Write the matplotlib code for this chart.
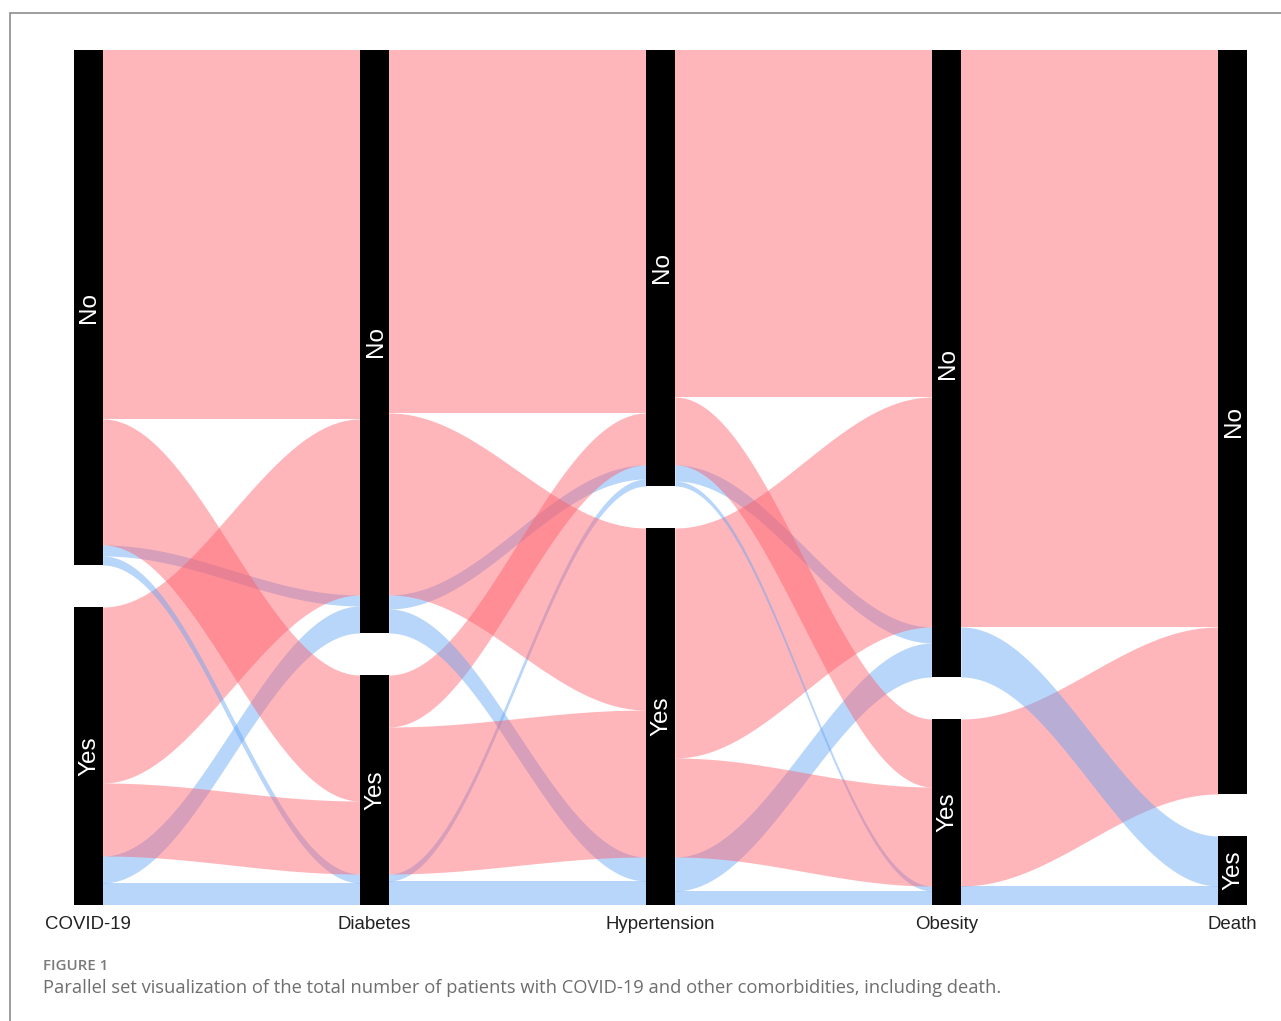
import numpy as np
import matplotlib
matplotlib.use('Agg')
import matplotlib.pyplot as plt
from matplotlib.patches import Rectangle

variables = ['COVID-19', 'Diabetes', 'Hypertension', 'Obesity', 'Death']
levels = ['No', 'Yes']

# flows between neighbouring variables, rows = left level, cols = right level
# split by outcome: survived (pink) / died (blue)
covid_diabetes_alive = [[369, 126], [176, 73]]
covid_diabetes_dead = [[11, 9], [27, 22]]
diabetes_hyper_alive = [[363, 182], [52, 147]]
diabetes_hyper_dead = [[14, 24], [7, 24]]
hyper_obesity_alive = [[347, 68], [230, 99]]
hyper_obesity_dead = [[16, 5], [34, 14]]
obesity_death_alive = [[577, 0], [167, 0]]
obesity_death_dead = [[0, 50], [0, 19]]

pairs = [
    (np.array(covid_diabetes_alive), np.array(covid_diabetes_dead)),
    (np.array(diabetes_hyper_alive), np.array(diabetes_hyper_dead)),
    (np.array(hyper_obesity_alive), np.array(hyper_obesity_dead)),
    (np.array(obesity_death_alive), np.array(obesity_death_dead)),
]

flow_colors = ['#ff5d6a', '#63a4f4']
flow_alpha = 0.45
bar_half = 0.05

# size of every level on every axis
sizes = [alive.sum(axis=1) + dead.sum(axis=1) for alive, dead in pairs]
sizes.append(pairs[-1][0].sum(axis=0) + pairs[-1][1].sum(axis=0))
total = sizes[0].sum()
gap = 0.0517 * total
tops = [np.array([0, s[0] + gap]) for s in sizes]

fig = plt.figure(figsize=(12.81, 10.21), dpi=100)
ax = fig.add_axes([74 / 1281, 116 / 1021, 1173 / 1281, 855 / 1021])
ax.set_xlim(-bar_half, len(variables) - 1 + bar_half)
ax.set_ylim(total + gap, 0)
ax.axis('off')

t = np.linspace(0, 1, 150)
s = (1 - np.cos(np.pi * t)) / 2

for k, tables in enumerate(pairs):
    left = {}
    for l in range(2):
        cur = tops[k][l]
        for o in range(2):
            for m in range(2):
                v = tables[o][l, m]
                left[(l, m, o)] = (cur, cur + v)
                cur += v
    right = {}
    for m in range(2):
        cur = tops[k + 1][m]
        for o in range(2):
            for l in range(2):
                v = tables[o][l, m]
                right[(l, m, o)] = (cur, cur + v)
                cur += v
    x = k + bar_half + (1 - 2 * bar_half) * t
    # drawn by target level, then source level
    for m in range(2):
        for l in range(2):
            for o in range(2):
                if tables[o][l, m] == 0:
                    continue
                (a0, a1), (b0, b1) = left[(l, m, o)], right[(l, m, o)]
                y0 = a0 + (b0 - a0) * s
                y1 = a1 + (b1 - a1) * s
                ax.fill_between(x, y0, y1, color=flow_colors[o],
                                alpha=flow_alpha, linewidth=0)

for k, name in enumerate(variables):
    for l, lev in enumerate(levels):
        ax.bar(k, sizes[k][l], bottom=tops[k][l], width=2 * bar_half,
               color='black', linewidth=0)
        ax.text(k + 0.004, tops[k][l] + sizes[k][l] / 2, lev, rotation=90,
                ha='center', va='center', color='white', fontsize=17.5,
                family='Liberation Sans')
    ax.text(k, total + gap + 20, name, ha='center', va='center',
            fontsize=13.4, color='#222222', family='Liberation Sans',
            clip_on=False)

fig.add_artist(Rectangle((10 / 1281, -0.05), 1.1, 1 - 13 / 1021 + 0.05,
                         transform=fig.transFigure, fill=False,
                         edgecolor='#8c8c8c', linewidth=1.2))
fig.text(43 / 1281, 1 - 966 / 1021, 'FIGURE 1', fontsize=10.8,
         weight='semibold', color='#7a7a7a', family='Open Sans', va='center')
fig.text(43 / 1281, 1 - 988 / 1021,
         'Parallel set visualization of the total number of patients with '
         'COVID-19 and other comorbidities, including death.',
         fontsize=13.25, color='#6e6e6e', family='Open Sans', va='center')

fig.savefig('out.png', dpi=100)
